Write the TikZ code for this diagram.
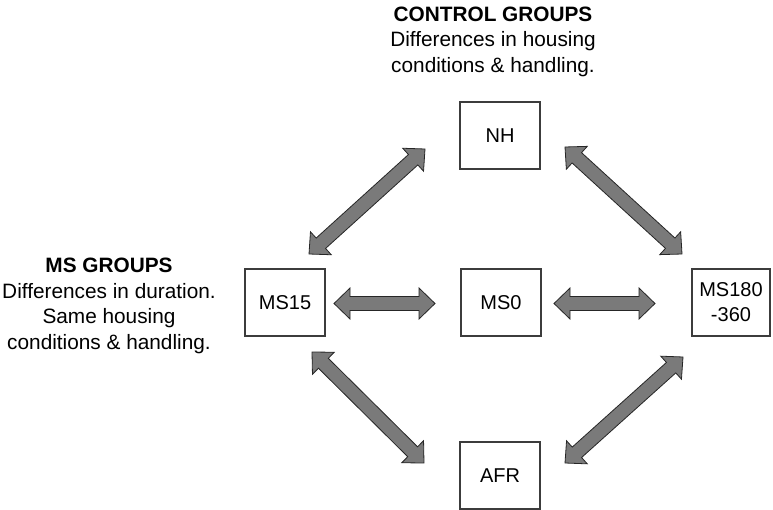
\documentclass[tikz,border=0pt]{standalone}
\usepackage{fontspec}
\setmainfont{Liberation Sans}
\usetikzlibrary{calc}
\definecolor{arrowgray}{RGB}{122,122,122}
\definecolor{boxline}{RGB}{60,60,60}
\tikzset{
  groupbox/.style={draw=boxline, line width=1.1pt, fill=white, minimum width=80pt, minimum height=67pt, inner sep=0pt, align=center, font=\fontsize{20}{25}\selectfont},
  label/.style={align=center, inner sep=0pt, anchor=north, font=\fontsize{20.8}{25.5}\selectfont},
  fatarrow/.style={fill=arrowgray, draw=black!85, line width=0.8pt, line join=miter}
}
\newcommand\fatarrow[2]{%
  \path[fatarrow] (#1)
   -- ($(#1)!16pt!(#2)!15.5pt!90:(#2)$)
   -- ($(#1)!16pt!(#2)!7pt!90:(#2)$)
   -- ($(#2)!16pt!(#1)!7pt!-90:(#1)$)
   -- ($(#2)!16pt!(#1)!15.5pt!-90:(#1)$)
   -- (#2)
   -- ($(#2)!16pt!(#1)!15.5pt!90:(#1)$)
   -- ($(#2)!16pt!(#1)!7pt!90:(#1)$)
   -- ($(#1)!16pt!(#2)!7pt!-90:(#2)$)
   -- ($(#1)!16pt!(#2)!15.5pt!-90:(#2)$)
   -- cycle;}
\begin{document}
\begin{tikzpicture}[x=1pt,y=-1pt]
\useasboundingbox (0,0) rectangle (773,510);
% boxes
\node[groupbox] (NH) at (500,135.5) {NH};
\node[groupbox] (MS15) at (285,302.5) {MS15};
\node[groupbox] (MS0) at (501,302.5) {MS0};
\node[groupbox, minimum width=78pt] (MS180) at (731,302.5) {MS180\\-360};
\node[groupbox] (AFR) at (500,475.5) {AFR};
% labels
\node[label] (ctrl) at (493,6.5) {\textbf{CONTROL GROUPS}\\Differences in housing\\conditions \& handling.};
\node[label] (msg) at (109,258) {\textbf{MS GROUPS}\\Differences in duration.\\Same housing\\conditions \& handling.};
% arrow tips
\coordinate (a1) at (334,303.5); \coordinate (b1) at (435,303.5);
\coordinate (a2) at (554,303.5); \coordinate (b2) at (655,303.5);
\coordinate (a3) at (309,254);   \coordinate (b3) at (425,149);
\coordinate (a4) at (565,147);   \coordinate (b4) at (682,254);
\coordinate (a5) at (312,352);   \coordinate (b5) at (424,463);
\coordinate (a6) at (683,357);   \coordinate (b6) at (565,463);
\fatarrow{a1}{b1}
\fatarrow{a2}{b2}
\fatarrow{a3}{b3}
\fatarrow{a4}{b4}
\fatarrow{a5}{b5}
\fatarrow{a6}{b6}
\end{tikzpicture}
\end{document}
